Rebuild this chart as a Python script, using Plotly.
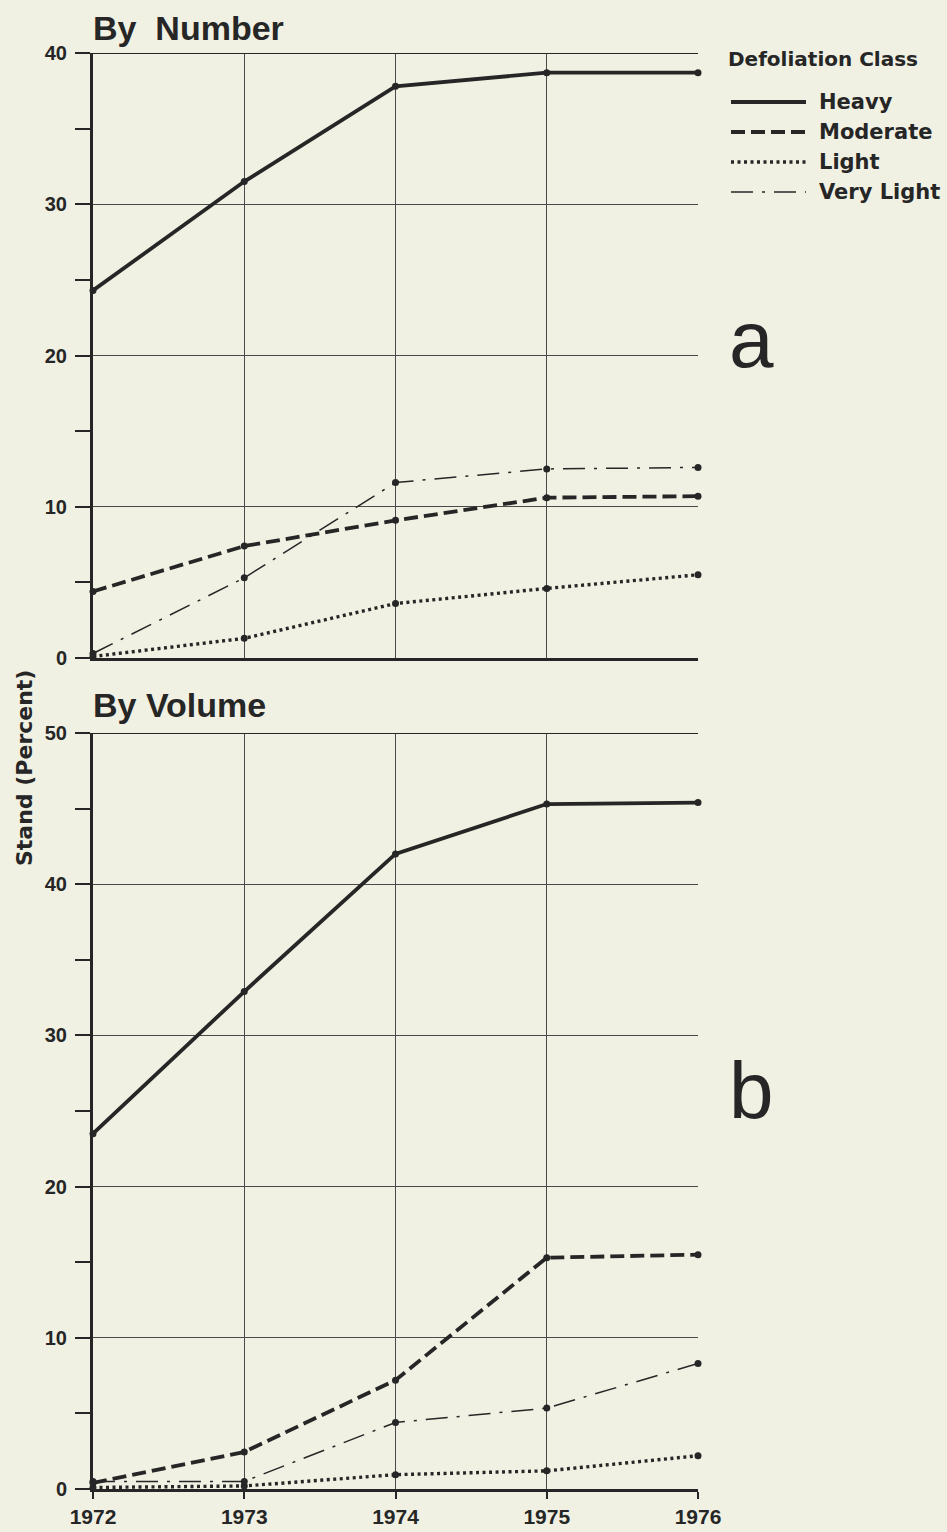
import plotly.graph_objects as go
from plotly.subplots import make_subplots

years = [1972, 1973, 1974, 1975, 1976]
classes = ["Heavy", "Moderate", "Light", "Very Light"]

# Percent of stand defoliated, by number of trees
number_heavy = [24.3, 31.5, 37.8, 38.7, 38.7]
number_moderate = [4.4, 7.4, 9.1, 10.6, 10.7]
number_light = [0.1, 1.3, 3.6, 4.6, 5.5]
number_very_light = [0.3, 5.3, 11.6, 12.5, 12.6]

# Percent of stand defoliated, by volume
volume_heavy = [23.5, 32.9, 42.0, 45.3, 45.4]
volume_moderate = [0.4, 2.45, 7.2, 15.3, 15.5]
volume_light = [0.1, 0.2, 0.95, 1.2, 2.2]
volume_very_light = [0.5, 0.5, 4.4, 5.35, 8.3]

INK = "#262626"
BG = "#f0f1e3"
FONT = "Liberation Sans, Arial, sans-serif"
WIDE = "DejaVu Sans, Verdana, sans-serif"

styles = {
    "Heavy": dict(width=3.8, dash="solid"),
    "Moderate": dict(width=3.8, dash="14px,6px"),
    "Light": dict(width=3.4, dash="3px,3.5px"),
    "Very Light": dict(width=1.5, dash="22px,9px,3px,9px"),
}

fig = make_subplots(rows=2, cols=1, vertical_spacing=0.0)

panels = [
    (1, [number_heavy, number_moderate, number_light, number_very_light]),
    (2, [volume_heavy, volume_moderate, volume_light, volume_very_light]),
]
for row, series in panels:
    for name, vals in zip(classes, series):
        st = styles[name]
        fig.add_trace(
            go.Scatter(
                x=years, y=vals, name=name, mode="lines+markers",
                line=dict(color=INK, width=st["width"], dash=st["dash"]),
                marker=dict(color=INK, size=7),
                cliponaxis=False, showlegend=False,
            ),
            row=row, col=1,
        )

W, H = 947, 1532
ML, MR, MT, MB = 93, 249, 53, 43
plot_h = H - MT - MB

def frac(py):
    return (H - MB - py) / plot_h

def px_x(px):
    return (px - ML) / (W - ML - MR)

fig.update_layout(
    width=W, height=H,
    margin=dict(l=ML, r=MR, t=MT, b=MB, autoexpand=False),
    paper_bgcolor=BG, plot_bgcolor=BG,
    font=dict(family=FONT, color=INK),
    showlegend=False,
)

axis_common = dict(
    range=[1972, 1976], tickvals=years,
    showgrid=True, gridcolor="#4a4a4a", gridwidth=1.3,
    showline=True, linecolor=INK, linewidth=3,
    zeroline=False, fixedrange=True, automargin=False,
)
fig.update_xaxes(axis_common, row=1, col=1)
fig.update_xaxes(axis_common, row=2, col=1)
fig.update_xaxes(showticklabels=False, ticks="", row=1, col=1)
fig.update_xaxes(
    ticks="outside", ticklen=7, tickwidth=2, tickcolor=INK,
    tickfont=dict(size=21, family=FONT, weight="bold"),
    ticklabelstandoff=0, row=2, col=1,
)

yaxis_common = dict(
    showgrid=True, gridcolor="#4a4a4a", gridwidth=1.3,
    showline=True, linecolor=INK, linewidth=3,
    zeroline=False, fixedrange=True, automargin=False,
    ticks="outside", ticklen=15, tickwidth=2, tickcolor=INK,
    tickfont=dict(size=20, family=FONT, weight="bold"),
    ticklabelstandoff=4,
    dtick=10, tick0=0,
    minor=dict(dtick=5, ticks="outside", ticklen=15, tickwidth=2, tickcolor=INK, showgrid=False),
)
fig.update_yaxes(yaxis_common, range=[0, 40], row=1, col=1)
fig.update_yaxes(yaxis_common, range=[0, 50], row=2, col=1)

fig.update_layout(
    yaxis=dict(domain=[frac(658), 1.0]),
    yaxis2=dict(domain=[0.0, frac(733)]),
)

# Top border lines of each panel
for xr, yr, top in (("x", "y", 40), ("x2", "y2", 50)):
    fig.add_shape(type="line", xref=xr, yref=yr,
                  x0=1972, x1=1976, y0=top, y1=top,
                  line=dict(color=INK, width=2))

# Panel headings
for text, py in (("By  Number", 28), ("By Volume", 705)):
    fig.add_annotation(
        text=text, xref="paper", yref="paper", x=px_x(91), y=frac(py),
        xanchor="left", yanchor="middle", showarrow=False,
        font=dict(size=34, family=FONT, weight="bold", color=INK),
    )

# Panel letters
for letter, py in (("a", 340), ("b", 1090)):
    fig.add_annotation(
        text=letter, xref="paper", yref="paper", x=px_x(727), y=frac(py),
        xanchor="left", yanchor="middle", showarrow=False,
        font=dict(size=80, family=FONT, color=INK),
    )

# Axis title
fig.add_annotation(
    text="Stand (Percent)", xref="paper", yref="paper", x=px_x(24), y=frac(768),
    xanchor="center", yanchor="middle", showarrow=False, textangle=-90,
    font=dict(size=22, family=WIDE, weight="bold", color=INK),
)

# Legend
fig.add_annotation(
    text="Defoliation Class", xref="paper", yref="paper", x=px_x(726), y=frac(59),
    xanchor="left", yanchor="middle", showarrow=False,
    font=dict(size=20, family=WIDE, weight="bold", color=INK),
)
for i, name in enumerate(classes):
    py = 102 + 30 * i
    st = styles[name]
    fig.add_shape(
        type="line", xref="paper", yref="paper",
        x0=px_x(731), x1=px_x(806), y0=frac(py), y1=frac(py),
        line=dict(color=INK, width=st["width"], dash=st["dash"]),
    )
    fig.add_annotation(
        text=name, xref="paper", yref="paper", x=px_x(817), y=frac(py),
        xanchor="left", yanchor="middle", showarrow=False,
        font=dict(size=21, family=WIDE, weight="bold", color=INK),
    )

fig.write_html("out.html")
